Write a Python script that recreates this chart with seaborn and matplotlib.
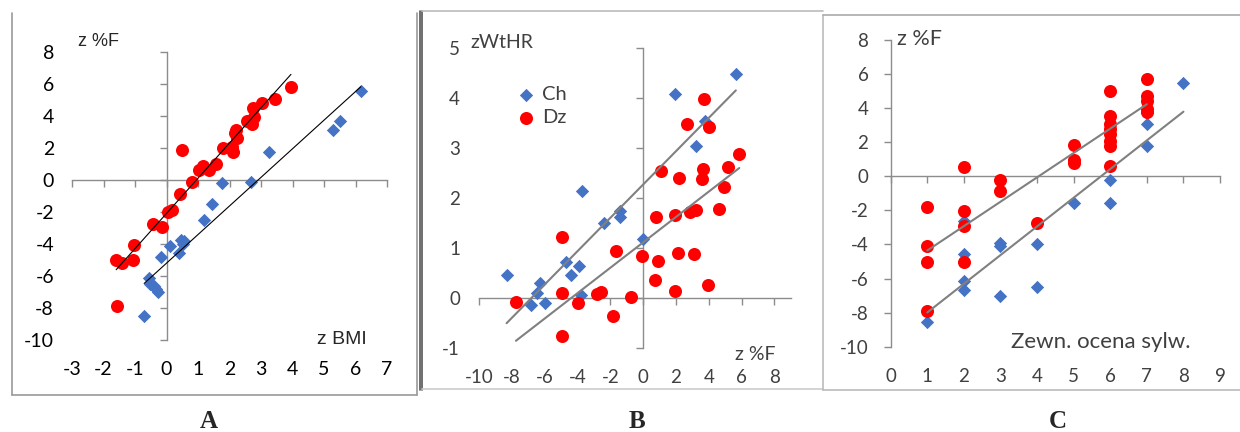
import numpy as np
import pandas as pd
import seaborn as sns
import matplotlib.pyplot as plt
from matplotlib.lines import Line2D

# panel A: z BMI (x) vs z %F (y)
a_ch_x = [-0.71, -0.56, -0.52, -0.39, -0.33, -0.26, -0.18, 0.11, 0.41, 0.45,
          0.53, 0.56, 1.19, 1.45, 1.77, 2.68, 3.26, 5.28, 5.51, 6.17]
a_ch_y = [-8.48, -6.13, -6.48, -6.60, -6.80, -7.02, -4.81, -4.11, -4.55, -3.77,
          -3.98, -3.84, -2.52, -1.48, -0.19, -0.15, 1.75, 3.08, 3.66, 5.54]
a_dz_x = [-1.58, -1.60, -1.42, -1.07, -1.03, -0.42, -0.15, 0.06, 0.17, 0.43,
          0.48, 0.82, 1.04, 1.17, 1.36, 1.57, 1.80, 2.07, 2.12, 2.17,
          2.20, 2.24, 2.55, 2.70, 2.76, 2.78, 3.02, 3.44, 3.95]
a_dz_y = [-7.86, -4.98, -5.19, -4.98, -4.04, -2.73, -2.94, -1.98, -1.86, -0.88,
          1.85, -0.15, 0.64, 0.89, 0.60, 0.98, 1.96, 2.06, 1.75, 2.94,
          3.14, 2.62, 3.66, 3.46, 4.50, 3.94, 4.81, 5.06, 5.79]

# panel B: z %F (x) vs zWtHR (y)
b_ch_x = [-8.34, -6.85, -6.51, -6.30, -6.00, -4.74, -4.41, -3.90, -3.82, -3.72,
          -2.38, -1.42, -1.42, 0.00, 1.93, 3.21, 3.76, 5.65]
b_ch_y = [0.47, -0.13, 0.10, 0.30, -0.10, 0.73, 0.47, 0.65, 0.07, 2.15,
          1.51, 1.75, 1.63, 1.18, 4.09, 3.05, 3.55, 4.48]
b_dz_x = [-7.77, -4.94, -4.94, -4.98, -3.97, -2.85, -2.60, -1.87, -1.67, -0.75,
          -0.06, 0.71, 0.75, 0.92, 1.06, 1.93, 1.93, 2.09, 2.20, 2.64,
          2.85, 3.21, 3.11, 3.62, 3.60, 3.72, 3.93, 4.03, 4.62, 4.92,
          5.19, 5.86]
b_dz_y = [-0.07, 1.22, 0.10, -0.75, -0.09, 0.08, 0.12, -0.35, 0.94, 0.02,
          0.85, 0.37, 1.62, 0.75, 2.55, 0.15, 1.67, 0.91, 2.41, 3.48,
          1.73, 1.77, 0.89, 2.59, 2.39, 3.99, 0.27, 3.43, 1.79, 2.23,
          2.63, 2.89]

# panel C: external body rating (x) vs z %F (y)
c_ch_x = [1, 2, 2, 2, 2, 3, 3, 3, 4, 4, 5, 6, 6, 7, 7, 7, 8]
c_ch_y = [-8.53, -2.60, -4.56, -6.13, -6.67, -3.91, -4.07, -7.04, -3.97, -6.48,
          -1.57, -0.20, -1.55, 3.07, 1.76, 3.70, 5.46]
c_dz_x = [1, 1, 1, 1, 2, 2, 2, 2, 3, 3, 4, 5, 5, 5,
          6, 6, 6, 6, 6, 6, 6, 6, 7, 7, 7, 7, 7]
c_dz_y = [-1.82, -4.11, -5.05, -7.93, 0.57, -2.05, -2.89, -5.05, -0.20, -0.88,
          -2.76, 1.84, 0.96, 0.78, 5.03, 3.56, 3.07, 2.78, 2.49, 2.09,
          1.76, 0.63, 5.71, 4.74, 4.44, 3.95, 3.80]

blue = '#4472C4'
red = '#FF0000'
axis_gray = '#8c8c8c'

sns.set_theme(style='white')
plt.rcParams['font.family'] = ['Lato', 'DejaVu Sans']
plt.rcParams['axes.unicode_minus'] = False

fig = plt.figure(figsize=(12.4, 4.32), dpi=100)


def panel(rect, ch_x, ch_y, dz_x, dz_y, line_color, line_w):
    ax = fig.add_axes(rect)
    sns.scatterplot(x=ch_x, y=ch_y, marker='D', color=blue, s=46, linewidth=0,
                    ax=ax, label='Ch', zorder=3)
    sns.scatterplot(x=dz_x, y=dz_y, marker='o', color=red, s=88, linewidth=0,
                    ax=ax, label='Dz', zorder=4)
    # trend lines (least squares, as in Excel)
    for xs, ys in [(ch_x, ch_y), (dz_x, dz_y)]:
        sns.regplot(x=np.array(xs), y=np.array(ys), scatter=False, ci=None, ax=ax,
                    line_kws=dict(color=line_color, lw=line_w, zorder=5))
    return ax


def excel_axes(ax, xlim, ylim, xticks, yticks, label_color, xpad, ypad, size):
    ax.set_xlim(xlim)
    ax.set_ylim(ylim)
    ax.set_xticks(xticks)
    ax.set_yticks(yticks)
    ax.set_xlabel('')
    ax.set_ylabel('')
    ax.patch.set_alpha(0)
    ax.spines['bottom'].set_visible(False)
    ax.spines['left'].set_visible(False)
    # axis lines cross at zero
    ax.spines['top'].set_position(('data', 0))
    ax.spines['right'].set_position(('data', 0))
    for s in ['top', 'right']:
        ax.spines[s].set_visible(True)
        ax.spines[s].set_color(axis_gray)
        ax.spines[s].set_linewidth(1)
    ax.tick_params(axis='x', bottom=False, top=True, labelbottom=True, labeltop=False,
                   direction='in', length=5, width=1, color=axis_gray, pad=xpad,
                   labelsize=size, labelcolor=label_color)
    ax.tick_params(axis='y', left=False, right=True, labelleft=True, labelright=False,
                   direction='in', length=5, width=1, color=axis_gray, pad=ypad,
                   labelsize=size, labelcolor=label_color)


# A
axA = panel([0.0581, 0.213, 0.254, 0.6674], a_ch_x, a_ch_y, a_dz_x, a_dz_y, 'black', 0.8)
excel_axes(axA, (-3, 7), (-10, 8), range(-3, 8), range(-10, 9, 2), 'black', 15, 13, 14)
axA.legend_.remove()
axA.text(0.019, 1.034, 'z %F', transform=axA.transAxes, fontsize=13,
         ha='left', va='center', family=['Liberation Sans', 'DejaVu Sans'])
axA.text(0.778, 0.0, 'z BMI', transform=axA.transAxes, fontsize=14,
         ha='left', va='center', family=['Liberation Sans', 'DejaVu Sans'])

# B
axB = panel([0.3866, 0.1937, 0.2511, 0.6944], b_ch_x, b_ch_y, b_dz_x, b_dz_y, '#808080', 1.5)
excel_axes(axB, (-10, 9), (-1, 5), range(-10, 9, 2), range(-1, 6), '#404040', 15, 14, 13.5)
axB.legend(loc='upper left', bbox_to_anchor=(0.06, 0.935), frameon=False, fontsize=14.5,
           handlelength=1.0, handletextpad=0.3, labelspacing=0.3, labelcolor='#404040')
axB.text(-0.03, 1.018, 'zWtHR', transform=axB.transAxes, fontsize=14,
         color='#404040', ha='left', va='center')
axB.text(0.821, -0.019, 'z %F', transform=axB.transAxes, fontsize=14,
         color='#404040', ha='left', va='center')

# C
axC = panel([0.7183, 0.1975, 0.2656, 0.710], c_ch_x, c_ch_y, c_dz_x, c_dz_y, '#808080', 1.5)
excel_axes(axC, (0, 9), (-10, 8), range(0, 10), range(-10, 9, 2), '#404040', 15, 16, 13.5)
axC.legend_.remove()
axC.text(0.019, 1.003, 'z %F', transform=axC.transAxes, fontsize=15.5,
         color='#404040', ha='left', va='center')
axC.text(0.365, 0.015, 'Zewn. ocena sylw.', transform=axC.transAxes, fontsize=16,
         color='#404040', ha='left', va='center')

# panel borders
W, H = 1240, 432


def seg(x0, y0, x1, y1, color, lw=1.2):
    fig.add_artist(Line2D([x0 / W, x1 / W], [1 - y0 / H, 1 - y1 / H],
                          transform=fig.transFigure, color=color, lw=lw))


seg(12, 13, 12, 395, '#9a9a9a')
seg(12, 395, 417, 395, '#9a9a9a')
seg(417, 13, 417, 395, '#9a9a9a')
seg(420, 11, 420, 390, '#555555')
seg(422, 11, 422, 390, '#555555')
seg(422, 11, 823, 11, '#bbbbbb')
seg(422, 389, 823, 389, '#cccccc')
seg(823, 15, 823, 390, '#bbbbbb')
seg(823, 15, 1240, 15, '#aaaaaa')
seg(823, 390, 1240, 390, '#bbbbbb')

for letter, px in [('A', 209), ('B', 637), ('C', 1058)]:
    fig.text(px / W, 1 - 421 / H, letter, ha='center', va='center', fontsize=18,
             fontweight='bold', family=['Liberation Serif', 'DejaVu Serif'])

fig.savefig('out.png', dpi=100)
